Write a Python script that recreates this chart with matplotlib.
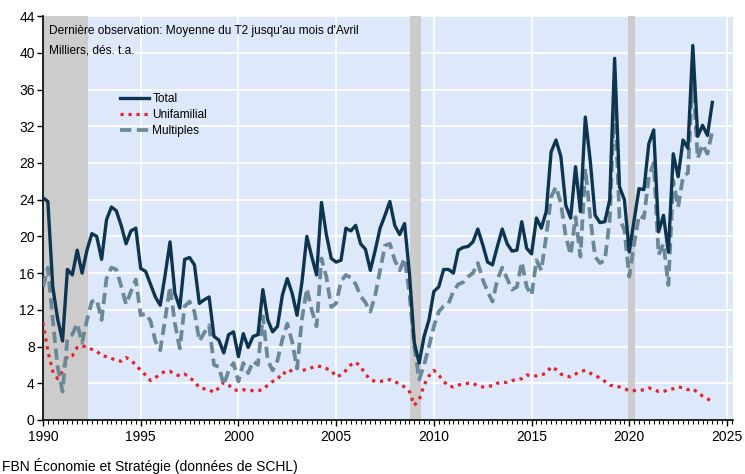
import numpy as np
import matplotlib
matplotlib.use("Agg")
import matplotlib.pyplot as plt
from matplotlib.ticker import MultipleLocator

plt.rcParams['font.family'] = ['Liberation Sans', 'DejaVu Sans']

# Mises en chantier trimestrielles, milliers (dés. t.a.), 1990T1 - 2024T2
total = [24.2, 23.8, 14.5, 11.0,  8.6, 16.4, 15.8, 18.5,  16.0, 18.5, 20.3, 20.0,
         17.5, 21.8, 23.2, 22.8,  21.2, 19.2, 20.6, 20.9,  16.5, 16.2, 14.8, 13.4,
         12.5, 15.8, 19.4, 13.8,  12.2, 17.5, 17.7, 16.9,  12.7, 13.1, 13.4, 9.1,
         8.7, 7.3, 9.3, 9.6,  6.9, 9.4, 7.9, 9.1,  9.3, 14.2, 10.9, 9.6,
         10.2, 13.6, 15.4, 13.8,  11.4, 15.0, 20.0, 17.8,  15.8, 23.7, 20.2, 17.6,
         17.2, 17.4, 20.9, 20.6,  21.2, 19.2, 18.6, 16.3,  18.5, 20.9, 22.3, 23.8,
         21.2, 20.2, 21.4, 16.0,  8.4, 6.2, 9.1, 10.9,  14.0, 14.5, 16.4, 16.4,
         16.0, 18.5, 18.8, 18.9,  19.4, 20.8, 19.1, 17.2,  16.9, 18.9, 20.8, 19.2,
         18.4, 18.5, 21.6, 18.7,  18.1, 22.0, 20.9, 22.7,  29.2, 30.5, 28.7, 23.4,
         22.0, 27.6, 22.7, 33.0,  28.3, 22.3, 21.5, 21.6,  24.0, 39.4, 25.4, 24.0,
         18.3, 21.8, 25.2, 25.1,  30.1, 31.6, 20.5, 22.3,  18.3, 29.0, 26.5, 30.5,
         29.6, 40.8, 30.9, 32.1,  31.0, 34.6]
unifamilial = [10.6, 7.5, 5.3, 4.5,  5.3, 7.0, 7.0, 7.9,  8.1, 7.9, 7.7, 7.5,
               7.0, 6.9, 6.7, 6.5,  6.4, 6.8, 6.5, 6.0,  5.4, 4.9, 4.3, 4.6,
               5.0, 5.3, 5.3, 5.0,  4.8, 5.0, 4.6, 4.2,  3.5, 3.4, 3.3, 3.0,
               3.5, 4.1, 3.8, 3.3,  3.2, 3.3, 3.2, 3.2,  3.2, 3.3, 3.8, 4.2,
               4.4, 5.2, 5.0, 5.5,  5.8, 5.4, 5.5, 5.7,  5.9, 5.8, 5.6, 5.4,
               4.7, 4.9, 5.4, 6.0,  6.3, 5.8, 5.0, 4.4,  4.2, 4.2, 4.3, 4.4,
               4.2, 3.9, 3.6, 3.1,  1.6, 2.2, 3.8, 4.8,  5.4, 4.9, 4.2, 3.7,
               3.6, 3.8, 3.9, 4.0,  4.0, 3.7, 3.6, 3.7,  3.7, 4.0, 4.1, 4.1,
               4.3, 4.4, 4.5, 4.9,  4.8, 4.8, 4.9, 5.1,  5.8, 5.5, 5.0, 4.8,
               4.7, 5.0, 5.3, 5.4,  5.1, 4.8, 4.6, 4.2,  3.8, 3.7, 3.6, 3.4,
               3.2, 3.2, 3.2, 3.3,  3.5, 3.3, 3.1, 3.1,  3.3, 3.4, 3.6, 3.5,
               3.3, 3.4, 3.0, 2.6,  2.3, 2.0]
multiples = [14.5, 16.6, 10.9, 5.8,  3.1, 8.9, 9.3, 10.5,  8.4, 10.9, 12.9, 13.1,
             10.9, 15.4, 16.6, 16.4,  14.6, 12.6, 14.0, 15.3,  11.4, 11.6, 10.8, 8.6,
             7.6, 11.0, 14.5, 10.5,  7.8, 12.4, 12.9, 11.8,  8.6, 9.5, 10.3, 6.0,
             5.8, 3.8, 5.4, 6.2,  4.2, 6.2, 5.1, 6.4,  6.0, 11.3, 6.5, 5.4,
             6.5, 8.8, 10.5, 8.5,  5.6, 11.0, 14.3, 12.0,  10.2, 17.6, 15.6, 12.3,
             12.7, 15.1, 15.8, 15.5,  14.8, 13.5, 12.8, 11.8,  13.6, 16.3, 19.0, 19.2,
             17.4, 16.3, 17.6, 13.8,  8.0, 4.4, 6.0, 8.0,  10.2, 11.8, 12.4, 12.7,
             14.0, 14.8, 15.0, 15.6,  16.0, 17.1, 15.3, 14.0,  12.9, 15.3, 16.6, 15.4,
             14.2, 14.5, 17.2, 14.5,  13.6, 17.4, 16.3, 20.0,  24.3, 25.4, 23.6, 20.0,
             18.0, 22.1, 17.8, 27.4,  22.1, 17.8, 17.1, 17.4,  21.8, 35.2, 22.0, 20.7,
             15.6, 19.2, 22.3, 22.0,  26.5, 28.0, 18.0, 19.2,  14.7, 26.1, 23.2, 26.5,
             26.9, 37.6, 28.5, 30.0,  29.0, 31.5]
dates = 1990 + np.arange(len(total)) / 4

# Récessions
rec_debut = [1990.0, 2008.78, 2019.95]
rec_fin = [1992.3, 2009.35, 2020.3]

fig = plt.figure(figsize=(7.45, 4.74), dpi=100)
ax = fig.add_axes([0.0577, 0.114, 0.926, 0.852])
ax.set_facecolor('#dde9fb')

for d, f in zip(rec_debut, rec_fin):
    ax.axvspan(d, f, color='#cccccc', lw=0, zorder=1)

ax.grid(True, color='white', lw=1.2, zorder=0)
ax.set_axisbelow(True)

ax.plot(dates, total, color='#0d3550', lw=2.4, label='Total', zorder=4)
ax.plot(dates, unifamilial, color='#e8202a', lw=2.3, ls=(0, (1, 1.5)), label='Unifamilial', zorder=3)
ax.plot(dates, multiples, color='#6b8898', lw=2.7, ls=(0, (3, 1.5)), label='Multiples', zorder=3)

ax.set_xlim(1990, 2025.3)
ax.set_ylim(0, 44)
ax.xaxis.set_major_locator(MultipleLocator(5))
ax.xaxis.set_minor_locator(MultipleLocator(0.25))
ax.yaxis.set_major_locator(MultipleLocator(4))
ax.tick_params(axis='both', labelsize=10, direction='out', length=4, width=1, colors='black')
ax.tick_params(axis='x', which='minor', length=3, width=0.8)
ax.tick_params(axis='y', pad=2)

for s in ['top', 'right']:
    ax.spines[s].set_visible(False)
ax.spines['left'].set_linewidth(1.2)
ax.spines['bottom'].set_linewidth(1.2)

ax.text(1990.3, 42.4, "Dernière observation: Moyenne du T2 jusqu'au mois d'Avril", fontsize=8.6, va='center')
ax.text(1990.3, 40.2, "Milliers, dés. t.a.", fontsize=8.6, va='center')

ax.legend(loc='upper left', bbox_to_anchor=(0.104, 0.822), frameon=False, fontsize=8.6,
          handlelength=2.5, handletextpad=0.25, labelspacing=0.35, borderaxespad=0)

fig.text(0.003, 0.006, "FBN Économie et Stratégie (données de SCHL)", fontsize=10)

fig.savefig('out.png', dpi=100)
